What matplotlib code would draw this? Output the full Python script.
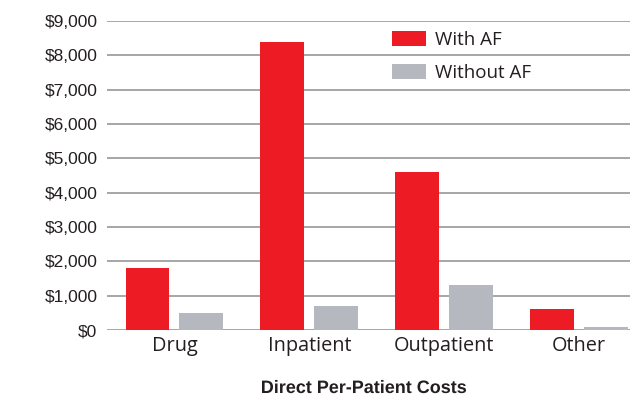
import numpy as np
import matplotlib.pyplot as plt
from matplotlib.ticker import FuncFormatter
from matplotlib.textpath import TextPath
from matplotlib.font_manager import FontProperties
from matplotlib.patches import PathPatch
from matplotlib.transforms import Affine2D

# data
categories = ["Drug", "Inpatient", "Outpatient", "Other"]
with_af = [1800, 8400, 4600, 600]
without_af = [500, 700, 1300, 80]
series_names = ["With AF", "Without AF"]
title = "Direct Per-Patient Costs"

red = "#ED1C24"
gray = "#B5B8BE"
ink = "#231F20"

fig = plt.figure(figsize=(6.3, 4.04), dpi=100)
ax = fig.add_axes([0.170, 0.183, 0.830, 0.765])

x = np.arange(len(categories))
w = 0.326
off = 0.2
ax.bar(x - off, with_af, w, color=red, label=series_names[0], zorder=3)
ax.bar(x + off, without_af, w, color=gray, label=series_names[1], zorder=3)

ax.set_xlim(-0.5, 3.38)
ax.set_ylim(0, 9000)
ax.set_yticks(np.arange(0, 9001, 1000))
ax.yaxis.set_major_formatter(FuncFormatter(lambda v, p: "${:,.0f}".format(v)))
ax.grid(axis="y", color="#A6A6A6", linewidth=1.4, zorder=0)
ax.set_axisbelow(True)
for s in ax.spines.values():
    s.set_visible(False)

ax.set_xticks(x)
ax.set_xticklabels(categories, fontfamily="Open Sans", fontsize=14.3, color=ink)
ax.tick_params(axis="x", length=0, pad=4)
ax.tick_params(axis="y", length=0, pad=7, labelsize=12.5, labelcolor=ink)
for t in ax.get_yticklabels():
    t.set_fontfamily("Liberation Sans")

leg = ax.legend(loc="upper left", bbox_to_anchor=(0.513, 1.022), frameon=False,
                prop={"family": "Open Sans", "size": 13.5}, handlelength=1.8,
                handleheight=0.8, handletextpad=0.5, labelspacing=0.8)
for t in leg.get_texts():
    t.set_color(ink)

# condensed bold title: squeeze a bold text path horizontally (pixel coords)
fp = FontProperties(family="Liberation Sans", weight="bold")
tp = TextPath((0, 0), title, size=18, prop=fp)
bb = tp.get_extents()
sx = 204.0 / bb.width
tr = Affine2D().translate(-bb.x0 - bb.width / 2, 0).scale(sx, 1.0).translate(364.0, 11.0)
fig.patches.append(PathPatch(tr.transform_path(tp), color=ink, lw=0,
                             transform=Affine2D(), figure=fig))

fig.savefig("out.png", dpi=100)
